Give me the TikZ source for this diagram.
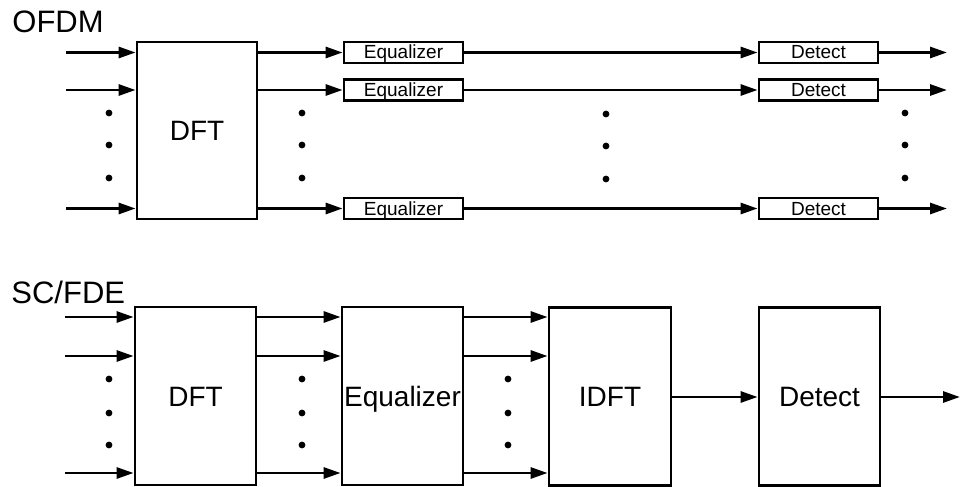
\documentclass[tikz,border=0pt]{standalone}
\usepackage{fontspec}
\setmainfont{Liberation Sans}
\usetikzlibrary{arrows.meta}

\begin{document}
\begin{tikzpicture}[x=1pt,y=-1pt,line width=2.8pt,
    >={Triangle[length=17pt,width=11pt]},
    bigbox/.style={draw,inner sep=0pt,minimum width=121pt,minimum height=178pt,text height=20pt,text depth=0pt,font=\fontsize{28}{30}\selectfont},
    smallbox/.style={draw,inner sep=0pt,minimum width=119pt,minimum height=21pt,text height=13pt,text depth=-2pt,font=\fontsize{19}{20}\selectfont},
    title/.style={anchor=base west,inner sep=0pt,font=\fontsize{31}{34}\selectfont}]
    \useasboundingbox (0,0) rectangle (961,487);

    % OFDM
    \node[title] (ofdm) at (11,33) {OFDM};
    \node[bigbox,minimum width=120pt,minimum height=177pt,text depth=-6pt] (DFTa) at (197,130.5) {DFT};
    \node[smallbox] (EQa) at (403.5,52.5) {Equalizer};
    \node[smallbox] (EQb) at (403.5,90) {Equalizer};
    \node[smallbox] (EQc) at (403.5,208.5) {Equalizer};
    \node[smallbox] (DTa) at (818.5,52.5) {Detect};
    \node[smallbox] (DTb) at (818.5,90) {Detect};
    \node[smallbox] (DTc) at (818.5,208.5) {Detect};
    \coordinate (INa) at (66,52.5);
    \coordinate (INb) at (66,90);
    \coordinate (INc) at (66,208.5);
    \coordinate (OUTa) at (947,52.5);
    \coordinate (OUTb) at (947,90);
    \coordinate (OUTc) at (947,208.5);
    \path[->]
    (INa) edge (INa -| DFTa.west)
    (INb) edge (INb -| DFTa.west)
    (INc) edge (INc -| DFTa.west)
    (DFTa.east |- EQa.west) edge (EQa.west)
    (DFTa.east |- EQb.west) edge (EQb.west)
    (DFTa.east |- EQc.west) edge (EQc.west)
    (EQa) edge (DTa)
    (EQb) edge (DTb)
    (EQc) edge (DTc)
    (DTa) edge (OUTa)
    (DTb) edge (OUTb)
    (DTc) edge (OUTc);
    \foreach \x/\dy in {109/0,302/0,606/1,905/0}
      \foreach \y in {113,145,178}
        \fill (\x,\y+\dy) circle (3.4pt);

    % SC/FDE
    \node[title] (scfde) at (10,303) {SC/FDE};
    \node[bigbox] (DFTb) at (195.5,396) {DFT};
    \node[bigbox] (EQd) at (402.5,396) {Equalizer};
    \node[bigbox,minimum width=122pt] (IDFT) at (610,396.5) {IDFT};
    \node[bigbox] (DTd) at (819.5,396.5) {Detect};
    \coordinate (INd) at (65,317);
    \coordinate (INe) at (65,356);
    \coordinate (INf) at (65,473);
    \coordinate (OUTd) at (960,397);
    \path[->]
    (INd) edge (INd -| DFTb.west)
    (INe) edge (INe -| DFTb.west)
    (INf) edge (INf -| DFTb.west)
    (DFTb.east |- INd) edge (EQd.west |- INd)
    (DFTb.east |- INe) edge (EQd.west |- INe)
    (DFTb.east |- INf) edge (EQd.west |- INf)
    (EQd.east |- INd) edge (IDFT.west |- INd)
    (EQd.east |- INe) edge (IDFT.west |- INe)
    (EQd.east |- INf) edge (IDFT.west |- INf)
    (IDFT.east |- OUTd) edge (DTd.west |- OUTd)
    (DTd.east |- OUTd) edge (OUTd);
    \foreach \x in {109,302,508}
      \foreach \y in {379,413,445}
        \fill (\x,\y) circle (3.4pt);
\end{tikzpicture}
\end{document}
